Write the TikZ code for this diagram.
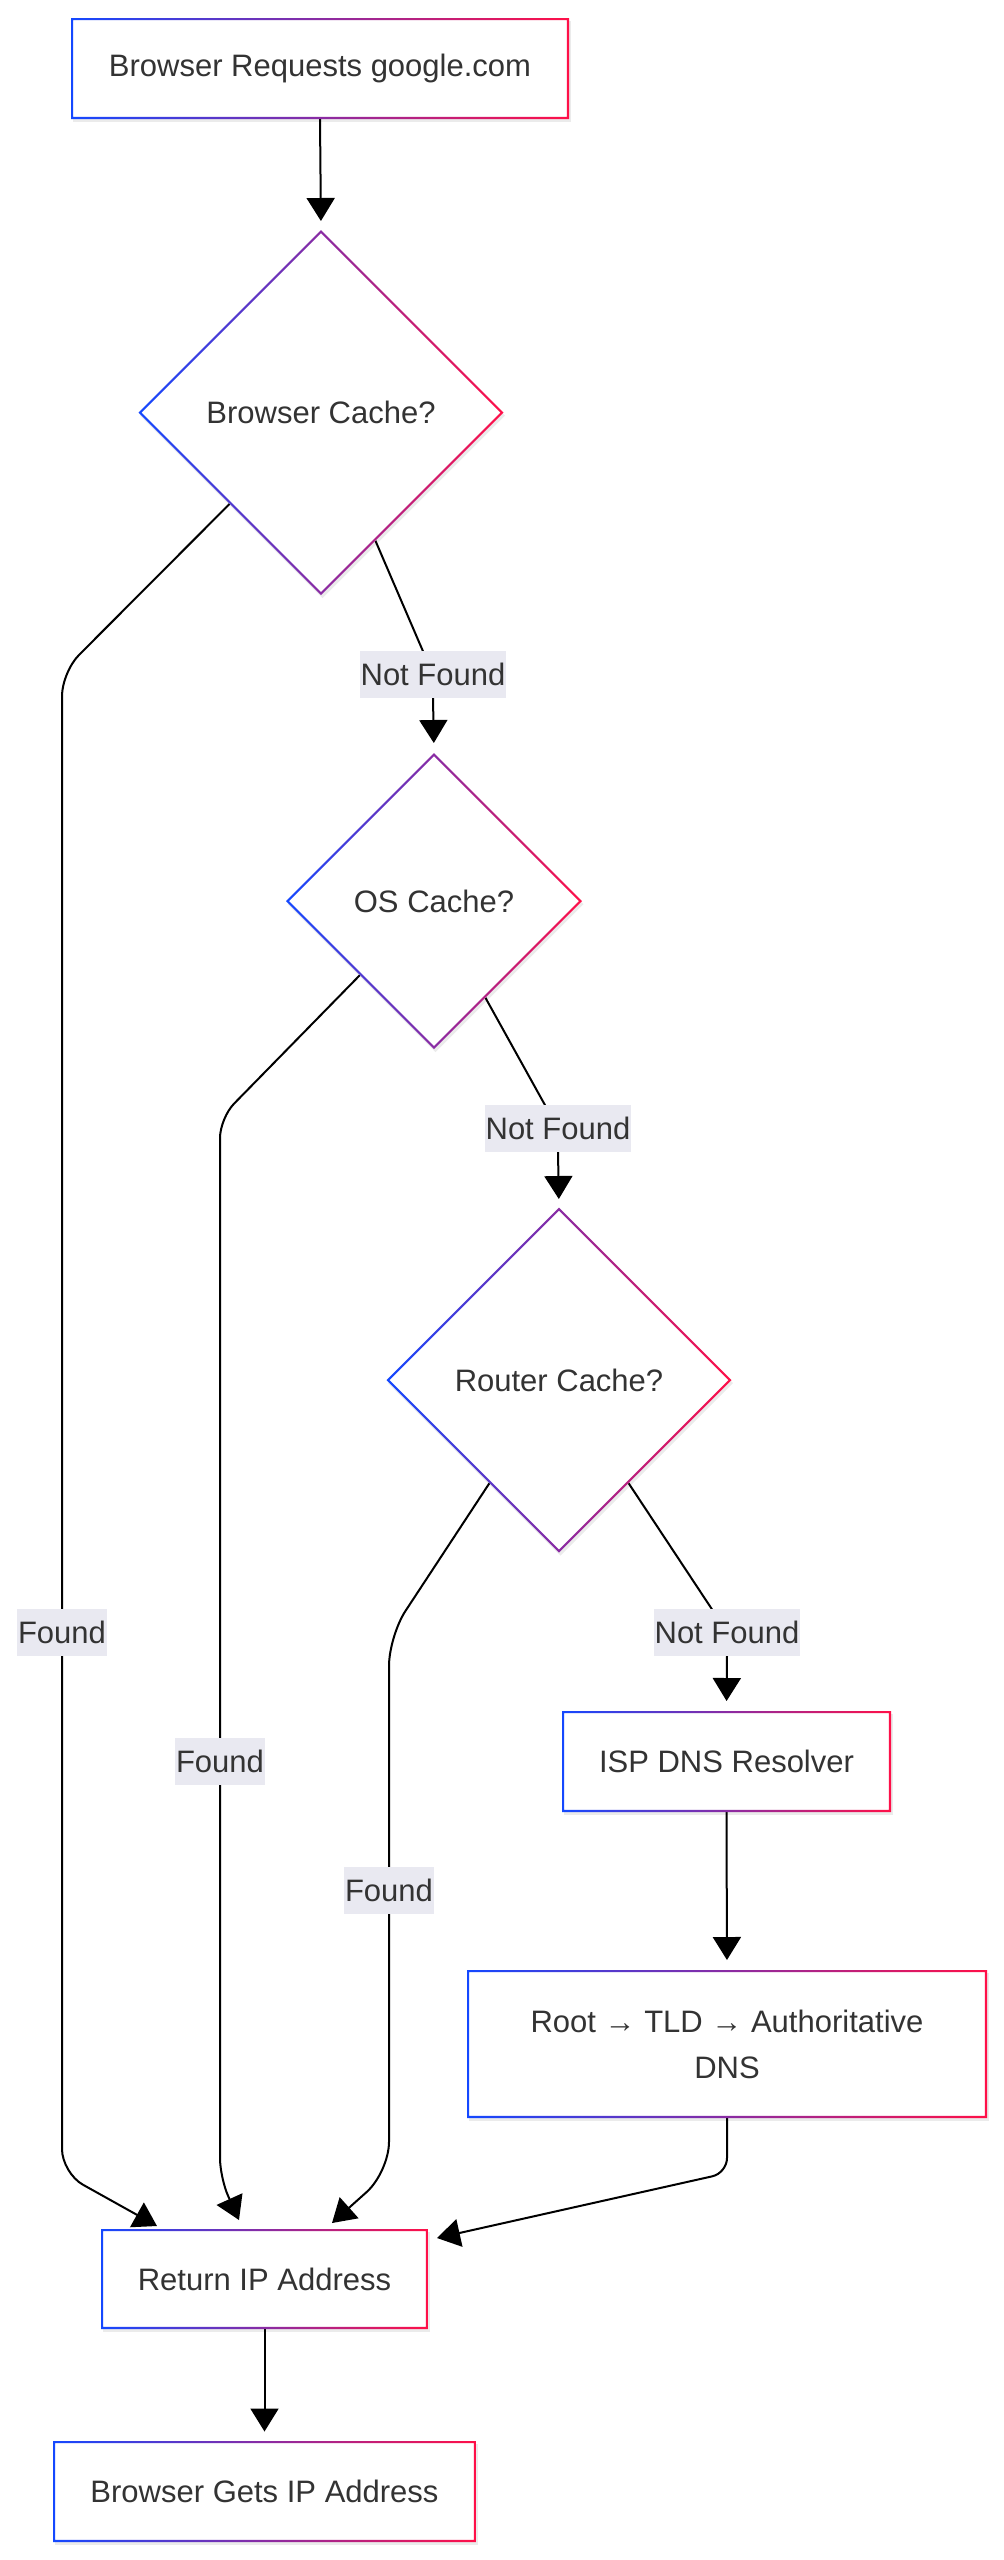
\documentclass[tikz,border=0pt]{standalone}
\usepackage{fontspec}
\setmainfont{Liberation Sans}
\usetikzlibrary{shapes.geometric,arrows.meta,shadows}
\pgfdeclarelayer{bglayer}
\pgfdeclarelayer{edges}
\pgfsetlayers{bglayer,edges,main}
\definecolor{gblue}{RGB}{20,72,255}
\definecolor{gred}{RGB}{255,16,72}
\definecolor{txtc}{RGB}{51,51,51}
\definecolor{lblbg}{RGB}{233,233,241}
\tikzset{
  basetext/.style={font=\fontsize{31}{46}\selectfont, text=txtc, inner sep=0pt, outer sep=0pt},
  softshadow/.style={drop shadow={shadow xshift=1.5pt, shadow yshift=-3pt, opacity=0.08, fill=black}},
  procbox/.style={basetext, rectangle, fill=white, align=center, softshadow},
  decision/.style={basetext, diamond, aspect=1, fill=white, minimum width=#1, minimum height=#1, softshadow},
  elabel/.style={basetext, rectangle, fill=lblbg, minimum height=47pt, inner xsep=1pt},
  conn/.style={line width=2pt, draw=black, -{Triangle[length=23pt,width=28pt]}},
  plainconn/.style={line width=2pt, draw=black},
}
\newcommand\gradrect[1]{\shade[left color=gblue, right color=gred, even odd rule]
  (#1.north west) rectangle (#1.south east)
  ([shift={(2.2,2.2)}]#1.north west) rectangle ([shift={(-2.2,-2.2)}]#1.south east);}
\newcommand\graddiamond[1]{\shade[left color=gblue, right color=gred, even odd rule]
  (#1.north) -- (#1.east) -- (#1.south) -- (#1.west) -- cycle
  ([yshift=-3pt]#1.north) -- ([xshift=-3pt]#1.east) -- ([yshift=3pt]#1.south) -- ([xshift=3pt]#1.west) -- cycle;}
\begin{document}
\begin{tikzpicture}[x=1pt,y=-1pt]
\begin{pgfonlayer}{bglayer}
\fill[white] (0,0) rectangle (1004,2560);
\end{pgfonlayer}
\useasboundingbox (0,0) rectangle (1004,2560);

% process boxes
\node[procbox, minimum width=498pt, minimum height=101pt] (top) at (320,68.5) {Browser Requests google.com};
\node[procbox, minimum width=329pt, minimum height=101pt] (isp) at (726.5,1761.5) {ISP DNS Resolver};
\node[procbox, minimum width=520pt, minimum height=148pt] (root) at (727,2044) {Root → TLD → Authoritative\\DNS};
\node[procbox, minimum width=327pt, minimum height=100pt] (ret) at (264.5,2279) {Return IP Address};
\node[procbox, minimum width=423pt, minimum height=101pt] (bg) at (264.5,2491.5) {Browser Gets IP Address};

% decisions
\node[decision=365pt] (d1) at (321,412.5) {Browser Cache?};
\node[decision=296pt] (d2) at (434,901) {OS Cache?};
\node[decision=345pt] (d3) at (559,1380) {Router Cache?};

% gradient borders
\gradrect{top}
\gradrect{isp}
\gradrect{root}
\gradrect{ret}
\gradrect{bg}
\graddiamond{d1}
\graddiamond{d2}
\graddiamond{d3}

% edge labels
\node[elabel] (nf1) at (433,674.5) {Not Found};
\node[elabel] (nf2) at (558,1128.5) {Not Found};
\node[elabel] (nf3) at (727,1632) {Not Found};
\node[elabel] (f1) at (62,1632) {Found};
\node[elabel] (f2) at (220,1761) {Found};
\node[elabel] (f3) at (389,1890) {Found};

\begin{pgfonlayer}{edges}
\draw[conn, shorten >=9pt] (top.south) -- (d1.north);
% Not Found chain
\draw[plainconn] (d1.-67) -- (nf1.center);
\draw[conn, shorten >=10pt] (nf1.south) -- (d2.north);
\draw[plainconn] (d2.-62) -- (nf2.center);
\draw[conn, shorten >=8.5pt] (nf2.south) -- (d3.north);
\draw[plainconn] (d3.-56.5) -- (nf3.center);
\draw[conn, shorten >=10pt] (nf3.south) -- (isp.north);
\draw[conn, shorten >=10pt] (isp.south) -- (root.north);
% Found branches
\draw[conn, rounded corners=24pt] (d1.south west) -- (62,672) -- (62,2173) -- ([shift={(56,-3)}]ret.north west);
\draw[conn, rounded corners=20pt] (d2.south west) -- (220,1118) -- (220,2178) -- ([shift={(138,-9)}]ret.north west);
\draw[conn, rounded corners=30pt] (d3.236) -- (389,1636) -- (389,2172) -- ([shift={(231,-6)}]ret.north west);
% root to return
\draw[conn, rounded corners=15pt] (root.south) -- (727,2173) -- ([shift={(9,9)}]ret.north east);
\draw[conn, shorten >=9.5pt] (ret.south) -- (bg.north);
\end{pgfonlayer}
\end{tikzpicture}
\end{document}
